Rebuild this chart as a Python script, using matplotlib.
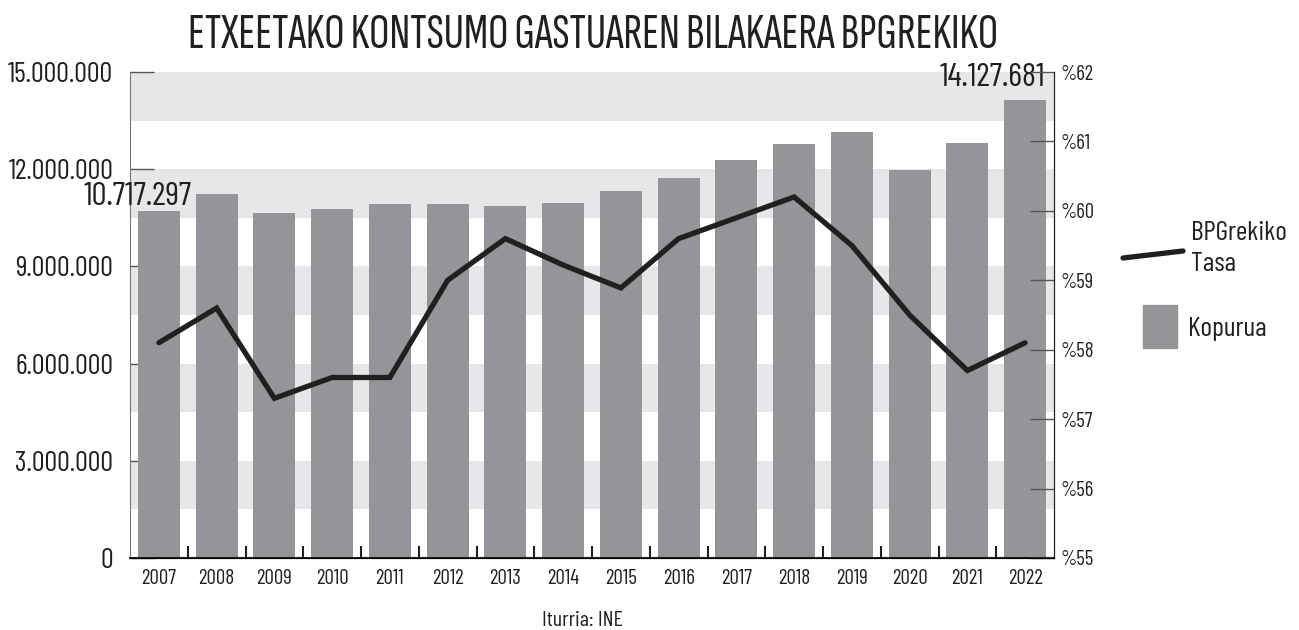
import matplotlib
matplotlib.use('Agg')
import matplotlib.pyplot as plt
from matplotlib.lines import Line2D
from matplotlib.patches import Rectangle
import numpy as np

body = ['Barlow Condensed', 'DejaVu Sans']
head = ['Sofia Sans Extra Condensed', 'Barlow Condensed', 'DejaVu Sans']
plt.rcParams['font.family'] = body

years = ['2007', '2008', '2009', '2010', '2011', '2012', '2013', '2014',
         '2015', '2016', '2017', '2018', '2019', '2020', '2021', '2022']
kopurua = [10717297, 11230000, 10640000, 10760000, 10920000, 10920000, 10860000, 10950000,
           11320000, 11720000, 12280000, 12770000, 13150000, 11970000, 12810000, 14127681]
tasa = [58.1, 58.6, 57.3, 57.6, 57.6, 59.0, 59.6, 59.22,
        58.89, 59.6, 59.9, 60.2, 59.5, 58.5, 57.7, 58.1]
left_ticks = [0, 3000000, 6000000, 9000000, 12000000, 15000000]
left_labels = ['0', '3.000.000', '6.000.000', '9.000.000', '12.000.000', '15.000.000']
right_ticks = [55, 56, 57, 58, 59, 60, 61, 62]

bar_col = '#939598'
stripe_col = '#e6e7e8'
ink = '#231f20'

W, H = 1299, 630
fig = plt.figure(figsize=(W / 100, H / 100), dpi=100)
r = fig.canvas.get_renderer()


def fit(s, px, family=body, weight='normal'):
    # font size that gives string s a width of px pixels
    t = fig.text(0, 0, s, fontsize=20, family=family, fontweight=weight)
    w = t.get_window_extent(r).width
    t.remove()
    return 20 * px / w


fs_left = fit('15.000.000', 105)
fs_year = fit('2007', 35)
fs_right = fit('%62', 33)
fs_ann = fit('10.717.297', 108)
fs_leg = fit('BPGrekiko', 96)
fs_src = fit('Iturria: INE', 81)
fs_title = fit('ETXEETAKO KONTSUMO GASTUAREN BILAKAERA BPGREKIKO', 814, head, 'light')

ax = fig.add_axes([130 / W, 1 - 558 / H, 924 / W, 486 / H])
x = np.arange(len(years))

# background stripes
for lo in [1500000, 4500000, 7500000, 10500000, 13500000]:
    ax.axhspan(lo, lo + 1500000, color=stripe_col, zorder=0, lw=0)

ax.bar(x, kopurua, width=0.727, color=bar_col, zorder=2)
ax.set_xlim(-0.5, len(years) - 0.5)
ax.set_ylim(0, 15000000)
ax.set_yticks(left_ticks)
ax.set_yticklabels(left_labels, fontsize=fs_left, color=ink)
ax.tick_params(axis='y', direction='in', length=17, width=1, color='#555555', pad=12)
ax.set_xticks(x)
ax.set_xticklabels(years, fontsize=fs_year, color=ink)
ax.tick_params(axis='x', length=0, pad=8)
ax.set_xticks(np.arange(-0.5, len(years), 1)[1:-1], minor=True)
ax.tick_params(axis='x', which='minor', direction='in', length=9, width=1.5, color=ink)
ax.spines['top'].set_visible(False)
ax.spines['left'].set_color('#777777')
ax.spines['bottom'].set_color(ink)
ax.spines['bottom'].set_linewidth(1.5)

ax.annotate('10.717.297', xy=(0, kopurua[0]), xytext=(33, 6), textcoords='offset pixels',
            ha='right', va='baseline', fontsize=fs_ann, color=ink, zorder=5)
ax.annotate('14.127.681', xy=(15, kopurua[-1]), xytext=(20, 14), textcoords='offset pixels',
            ha='right', va='baseline', fontsize=fs_ann, color=ink, zorder=5)

ax2 = ax.twinx()
ax2.plot(x, tasa, color=ink, lw=3.8, solid_capstyle='round', solid_joinstyle='miter', zorder=3)
ax2.set_ylim(55, 62)
ax2.set_yticks(right_ticks)
ax2.set_yticklabels(['%' + str(t) for t in right_ticks], fontsize=fs_right, color=ink)
ax2.tick_params(axis='y', direction='in', length=17, width=1, color='#555555', pad=5)
ax2.spines['top'].set_visible(False)
ax2.spines['left'].set_visible(False)
ax2.spines['right'].set_color(ink)

fig.text(593 / W, 1 - 48 / H, 'ETXEETAKO KONTSUMO GASTUAREN BILAKAERA BPGREKIKO',
         ha='center', va='baseline', fontsize=fs_title, family=head, fontweight='light', color=ink)
fig.text(582 / W, 1 - 626 / H, 'Iturria: INE', ha='center', va='baseline', fontsize=fs_src, color=ink)

# legend
fig.add_artist(Line2D([1123 / W, 1183 / W], [1 - 258 / H, 1 - 251 / H],
                      color=ink, lw=3.8, solid_capstyle='round'))
fig.text(1191 / W, 1 - 240 / H, 'BPGrekiko', fontsize=fs_leg, va='baseline', color=ink)
fig.text(1191 / W, 1 - 271 / H, 'Tasa', fontsize=fs_leg, va='baseline', color=ink)
fig.add_artist(Rectangle((1143 / W, 1 - 348 / H), 34 / W, 43 / H,
                         transform=fig.transFigure, color=bar_col))
fig.text(1188 / W, 1 - 336 / H, 'Kopurua', fontsize=fs_leg, va='baseline', color=ink)

fig.savefig('out.png', dpi=100)
